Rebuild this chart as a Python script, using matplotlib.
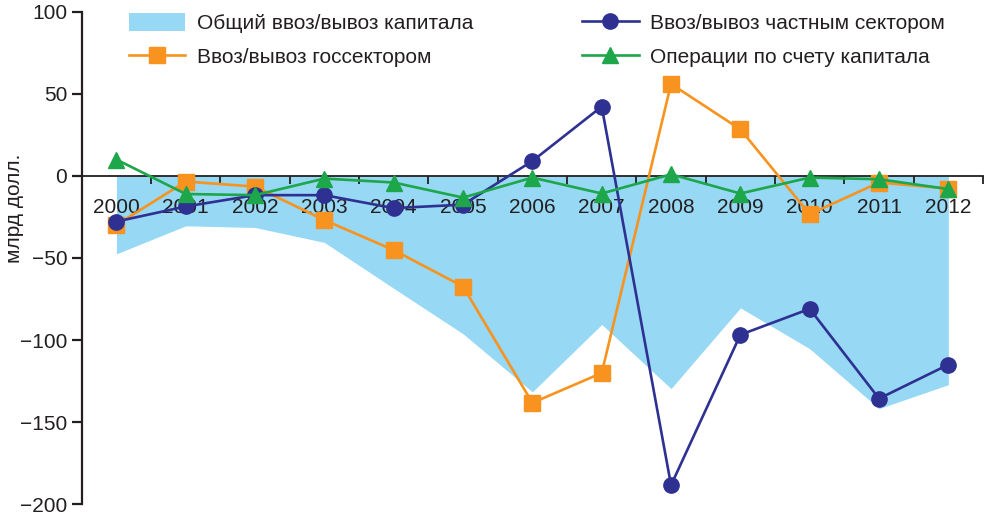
import numpy as np
import matplotlib
matplotlib.use('Agg')
import matplotlib.pyplot as plt

# ============================================
# Data (млрд долл.)
# ============================================
years = ['2000', '2001', '2002', '2003', '2004', '2005', '2006',
         '2007', '2008', '2009', '2010', '2011', '2012']
total_flow = [-47.5, -30.4, -31.4, -40.5, -68.5, -96.2, -131.6,
              -90.5, -129.6, -80.4, -105.3, -141.8, -127.2]
private_flow = [-27.8, -18.6, -11.7, -11.7, -19.6, -17.5, 9.1,
                42.3, -188.5, -96.8, -81.0, -135.7, -115.0]
public_flow = [-29.8, -3.4, -6.5, -26.9, -45.2, -67.4, -138.3,
               -120.1, 56.1, 28.4, -23.3, -4.0, -7.7]
capital_account = [10.0, -11.0, -11.7, -1.6, -4.0, -13.2, -1.0,
                   -10.7, 1.0, -10.7, -1.0, -2.0, -8.0]

label_total = 'Общий ввоз/вывоз капитала'
label_public = 'Ввоз/вывоз госсектором'
label_private = 'Ввоз/вывоз частным сектором'
label_capital = 'Операции по счету капитала'

# ============================================
# Style
# ============================================
plt.rcParams['font.family'] = ['Liberation Sans', 'DejaVu Sans']
text_color = '#231F20'
c_fill = '#97D8F4'
c_private = '#2E3192'
c_public = '#F7931E'
c_capital = '#1DA64A'

fig = plt.figure(figsize=(9.85, 5.17), dpi=100)
ax = fig.add_axes([0.083, 0.025, 0.915, 0.952])

x = np.arange(len(years))

ax.fill_between(x, 0, total_flow, color=c_fill, linewidth=0,
                label=label_total, zorder=1)
ax.plot(x, public_flow, color=c_public, lw=1.9, marker='s', ms=11,
        label=label_public, zorder=3)
ax.plot(x, private_flow, color=c_private, lw=1.9, marker='o', ms=11,
        label=label_private, zorder=4)
ax.plot(x, capital_account, color=c_capital, lw=1.9, marker='^', ms=11,
        label=label_capital, zorder=5)

# ============================================
# Axes
# ============================================
ax.set_xlim(-0.5, 12.5)
ax.set_ylim(-200, 100)

ax.spines['top'].set_visible(False)
ax.spines['right'].set_visible(False)
ax.spines['bottom'].set_position(('data', 0))
ax.spines['bottom'].set_linewidth(1.3)
ax.spines['bottom'].set_zorder(2)
ax.spines['left'].set_linewidth(1.6)
ax.spines['left'].set_color(text_color)
ax.spines['bottom'].set_color(text_color)

ax.set_xticks(x)
ax.set_xticklabels(years)
ax.set_xticks(np.arange(-0.5, 12.6, 1.0), minor=True)
ax.tick_params(axis='x', which='major', length=0, pad=16,
               labelsize=15, labelcolor=text_color)
ax.tick_params(axis='x', which='minor', length=6, width=1.3,
               direction='out', color=text_color)

ax.set_yticks([100, 50, 0, -50, -100, -150, -200])
ax.tick_params(axis='y', length=7, width=1.6, pad=3.5,
               labelsize=15, labelcolor=text_color, color=text_color)

fig.text(15 / 985, 1 - 208 / 517, 'млрд долл.', rotation=90,
         ha='center', va='center', fontsize=15, color=text_color)

leg = ax.legend(ncol=2, loc='upper left', bbox_to_anchor=(0.043, 1.014),
                frameon=False, fontsize=15, handlelength=2.7,
                handleheight=0.9, handletextpad=0.55, columnspacing=5.25,
                labelspacing=0.65, borderaxespad=0)
for t in leg.get_texts():
    t.set_color(text_color)

fig.savefig('out.png', dpi=100)
